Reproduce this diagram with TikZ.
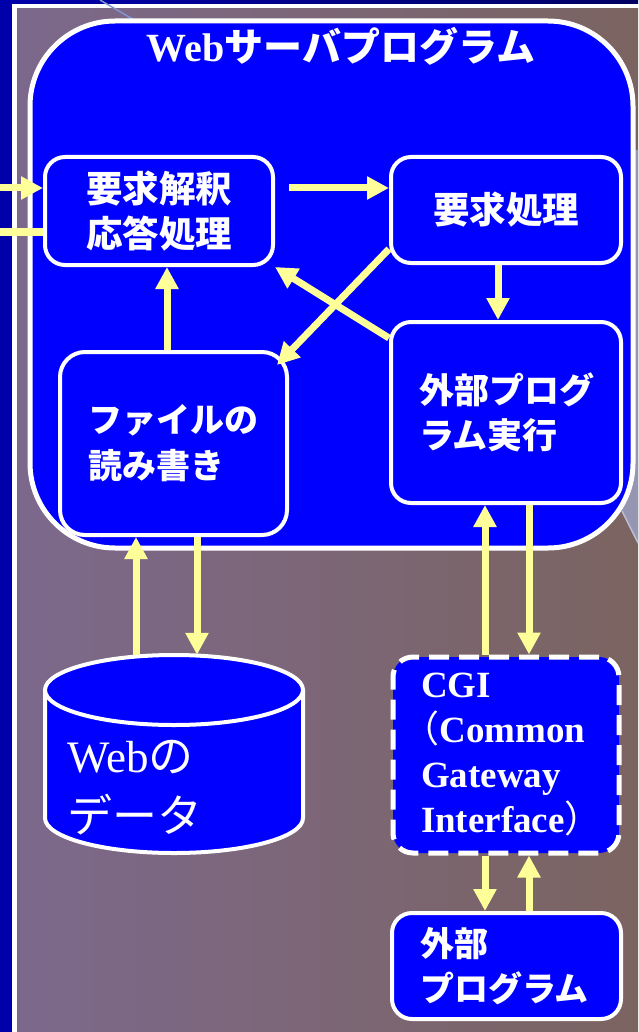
\documentclass[tikz,border=0pt]{standalone}
\usepackage{fontspec}
\setmainfont{Liberation Serif}
\newfontfamily\jp{Noto Sans CJK JP}
\newfontfamily\jph[RawFeature=+halt]{Noto Sans CJK JP}
\usetikzlibrary{arrows.meta,calc}

\definecolor{bgL}{RGB}{124,104,140}
\definecolor{bgR}{RGB}{123,100,96}
\definecolor{frameblue}{RGB}{0,0,170}
\definecolor{navyband}{RGB}{0,0,100}
\definecolor{boxblue}{RGB}{0,0,255}
\definecolor{arrowyellow}{RGB}{255,255,153}
\definecolor{lav}{RGB}{150,150,178}
\definecolor{lavline}{RGB}{190,190,215}
\definecolor{decoline}{RGB}{130,150,210}

\begin{document}
\begin{tikzpicture}[x=1pt,y=-1pt,
  box/.style={draw=white, line width=4pt, fill=boxblue, rounded corners=20pt, text=white, inner sep=0pt},
  arr/.style={draw=arrowyellow, line width=7pt, -{Triangle[width=22pt,length=22pt]}},
  ln/.style={draw=arrowyellow, line width=7pt},
  jpf/.style={font=\jp\bfseries\fontsize{35}{45}\selectfont}
]
\useasboundingbox (0,0) rectangle (638,1032);
% background
\fill[frameblue] (0,0) rectangle (638,1032);
\shade[left color=frameblue, right color=navyband] (12,0) rectangle (638,4);
\shade[left color=bgL, right color=bgR] (16,8) rectangle (638,1032);
\fill[white] (12,4) rectangle (638,8);
\fill[white] (12,4) rectangle (16.5,1032);
\fill[lav] (610,150) -- (638,150) -- (638,543) -- (622,511) -- (610,490) -- cycle;
\draw[lavline, line width=1.5pt] (622,511) -- (638,543);
\draw[decoline, line width=1.5pt] (100,0) -- (136,21);

% server program frame
\node[draw=white, line width=5pt, fill=boxblue, rounded corners=85pt,
      minimum width=603pt, minimum height=527pt, inner sep=0pt] (server) at (331.5,284.5) {};
\node[text=white, anchor=base, inner sep=0pt] (title) at (341,62)
  {{\bfseries\fontsize{40}{40}\selectfont Web}{\jp\bfseries\fontsize{39}{39}\selectfont サーバプログラム}};

% boxes
\node[box, minimum width=228pt, minimum height=108pt, align=center, jpf, font=\jp\bfseries\fontsize{36.5}{45}\selectfont] (req) at (159,211) {要求解釈\\応答処理};
\node[box, minimum width=230pt, minimum height=106pt, font=\jp\bfseries\fontsize{36.5}{45}\selectfont] (proc) at (506,210) {要求処理};
\node[box, minimum height=181pt, text width=174pt, inner xsep=28pt, align=left, jpf] (ext) at (506,412.5) {外部プログ\\ラム実行};
\node[box, rounded corners=25pt, minimum height=183pt, text width=171pt, inner xsep=28pt, align=left,
      font=\jp\bfseries\fontsize{34}{46}\selectfont] (file) at (173.5,443.5) {ファイルの\\読み書き};
\node[box, line width=5pt, dash pattern=on 20pt off 10pt, minimum height=196pt, text width=170pt, inner xsep=28pt, align=left,
      font=\bfseries\fontsize{37}{45}\selectfont] (cgi) at (506,755)
  {CGI\\{\jph\mdseries （}Common\\Gateway\\Interface{\jph\mdseries ）}};
\node[box, minimum height=106pt, text width=173pt, inner xsep=28pt, align=left,
      font=\jp\bfseries\fontsize{34}{45}\selectfont] (prog) at (506.5,966) {外部\\プログラム};

% database cylinder
\draw[white, line width=4pt, fill=boxblue] (45,690) -- (45,818)
  arc[start angle=180, end angle=0, x radius=129, y radius=35] -- (303,690);
\draw[white, line width=4pt, fill=boxblue] (174,690) ellipse [x radius=129, y radius=35];
\node[inner sep=0pt, minimum width=258pt, minimum height=198pt] (cyl) at (174,754) {};
\node[text=white, anchor=north west, align=left, inner sep=0pt, font=\fontsize{45}{60}\selectfont] (cyltxt) at (67,740)
  {Web{\jp の}\\{\jp データ}};

% connectors
\coordinate (inL) at (0,188);
\coordinate (outL) at (0,232);
\coordinate (gx) at (167,0);
\coordinate (hx) at (136,0);
\coordinate (ix) at (197,0);
\coordinate (jx) at (485,0);
\coordinate (kx) at (529,0);
\draw[arr] (inL) -- (req.west |- inL);
\draw[ln] (req.west |- outL) -- (outL);
\draw[arr, shorten <=14pt] (req.east |- inL) -- (proc.west |- inL);
\draw[arr] ([xshift=-8pt]proc.south) -- ([xshift=-8pt]ext.north);
\draw[arr] ([yshift=-18pt]ext.north west) -- (req.south east);
\draw[arr] ([yshift=16pt]proc.south west) -- ([xshift=-12pt,yshift=-15pt]file.north east);
\draw[arr] (file.north -| gx) -- (req.south -| gx);
\draw[arr] (cyl.north -| hx) -- (file.south -| hx);
\draw[arr] (file.south -| ix) -- (cyl.north -| ix);
\draw[arr] (cgi.north -| jx) -- (ext.south -| jx);
\draw[arr] (ext.south -| kx) -- (cgi.north -| kx);
\draw[arr] (cgi.south -| jx) -- (prog.north -| jx);
\draw[arr] (prog.north -| kx) -- (cgi.south -| kx);
\end{tikzpicture}
\end{document}
